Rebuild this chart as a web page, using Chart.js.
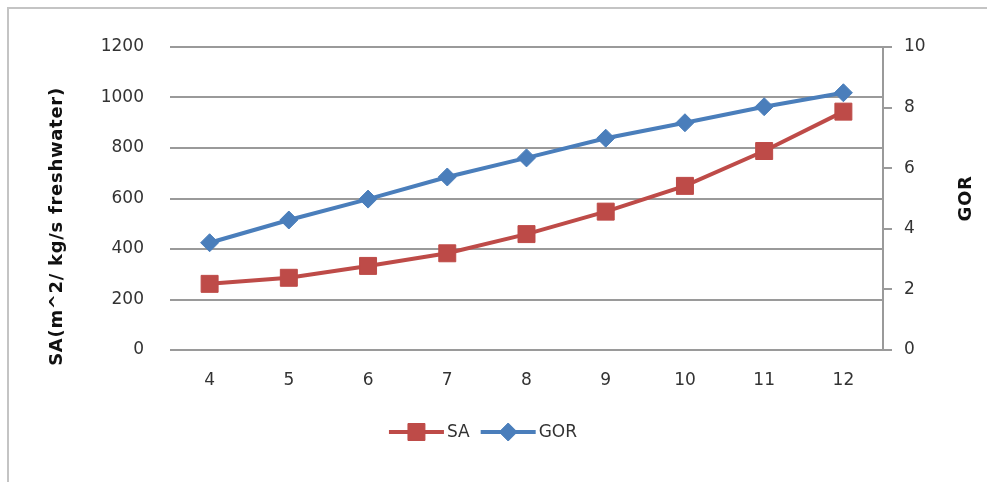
<!DOCTYPE html>
<html>
<head>
<meta charset="utf-8">
<script src="https://cdn.jsdelivr.net/npm/chart.js@4"></script>
<style>
  html, body { margin: 0; padding: 0; background: #fff; overflow: hidden; }
  canvas { display: block; }
</style>
</head>
<body>
<canvas id="chart" width="987" height="482"></canvas>
<script>
// operating points on the x axis
const stages = ["4", "5", "6", "7", "8", "9", "10", "11", "12"];
// specific area, left axis
const saValues = [262, 286, 333, 383, 459, 548, 650, 788, 944];
// gain output ratio, right axis
const gorValues = [3.54, 4.29, 4.98, 5.71, 6.34, 6.99, 7.5, 8.03, 8.49];

const leftTitle = "SA(m^2/ kg/s freshwater)";
const rightTitle = "GOR";

const RED = "#BE4B48";
const BLUE = "#4A7EBB";
const TEXT = "#333333";
const FONT = "DejaVu Sans";

// thin frame along the top and left edges
const frame = {
  id: "frame",
  beforeDraw(chart) {
    const ctx = chart.ctx;
    ctx.save();
    ctx.strokeStyle = "#c4c4c4";
    ctx.lineWidth = 2;
    ctx.beginPath();
    ctx.moveTo(8, chart.height);
    ctx.lineTo(8, 8);
    ctx.lineTo(chart.width, 8);
    ctx.stroke();
    ctx.restore();
  },
};

// both axis titles read bottom-to-top
const axisTitles = {
  id: "axisTitles",
  afterDraw(chart) {
    const ctx = chart.ctx;
    const area = chart.chartArea;
    ctx.save();
    ctx.fillStyle = "#111";
    ctx.font = "bold 18px " + FONT;
    ctx.textAlign = "center";
    ctx.textBaseline = "middle";
    ctx.letterSpacing = "0.7px";
    const draw = (text, x, y) => {
      ctx.save();
      ctx.translate(x, y);
      ctx.rotate(-Math.PI / 2);
      ctx.fillText(text, 0, 0);
      ctx.restore();
    };
    draw(leftTitle, 57, (area.top + area.bottom) / 2 + 28);
    draw(rightTitle, 966, (area.top + area.bottom) / 2);
    ctx.restore();
  },
};

// line-with-marker legend drawn under the axis
const lineLegend = {
  id: "lineLegend",
  afterDraw(chart) {
    const ctx = chart.ctx;
    const y = 432;
    const segW = 55;
    ctx.save();
    ctx.font = "17px " + FONT;
    const items = chart.data.datasets.map((ds) => ({
      ds,
      textW: ctx.measureText(ds.label).width,
    }));
    const total = items.reduce((s, it) => s + segW + 4 + it.textW, 0) + 10;
    let x = chart.width / 2 - 10 - total / 2;
    items.forEach((it) => {
      const ds = it.ds;
      ctx.strokeStyle = ds.borderColor;
      ctx.lineWidth = 4;
      ctx.beginPath();
      ctx.moveTo(x, y);
      ctx.lineTo(x + segW, y);
      ctx.stroke();
      ctx.fillStyle = ds.pointBackgroundColor;
      ctx.strokeStyle = ds.pointBorderColor;
      ctx.lineWidth = 1;
      Chart.helpers.drawPoint(ctx, {
        pointStyle: ds.pointStyle,
        radius: ds.pointRadius,
        rotation: 0,
        borderWidth: 1,
      }, x + segW / 2, y);
      ctx.fillStyle = TEXT;
      ctx.textBaseline = "middle";
      ctx.textAlign = "left";
      ctx.fillText(ds.label, x + segW + 3, y + 1);
      x += segW + 4 + it.textW + 10;
    });
    ctx.restore();
  },
};

const plain = (v) => String(v);

const ctx = document.getElementById("chart").getContext("2d");
new Chart(ctx, {
  type: "line",
  data: {
    labels: stages,
    datasets: [
      {
        label: "SA",
        data: saValues,
        yAxisID: "y",
        borderColor: RED,
        borderWidth: 4,
        pointStyle: "rect",
        pointRadius: 12,
        pointBackgroundColor: RED,
        pointBorderColor: RED,
        pointBorderWidth: 1,
        tension: 0,
      },
      {
        label: "GOR",
        data: gorValues,
        yAxisID: "y1",
        borderColor: BLUE,
        borderWidth: 4,
        pointStyle: "rectRot",
        pointRadius: 9,
        pointBackgroundColor: BLUE,
        pointBorderColor: BLUE,
        pointBorderWidth: 1,
        tension: 0,
      },
    ],
  },
  options: {
    responsive: false,
    animation: false,
    layout: { padding: { top: 47, left: 0, right: 0, bottom: 0 } },
    plugins: {
      legend: { display: false },
      tooltip: { enabled: false },
    },
    scales: {
      x: {
        offset: true,
        grid: { display: false },
        border: { display: false },
        ticks: { color: TEXT, font: { family: FONT, size: 17 }, padding: 12 },
        afterFit(scale) { scale.height = 132; },
      },
      y: {
        position: "left",
        min: 0,
        max: 1200,
        ticks: { stepSize: 200, color: TEXT, font: { family: FONT, size: 17 }, padding: 26, callback: plain },
        grid: { color: "#9a9a9a", lineWidth: 2, drawTicks: false },
        border: { display: false },
        afterFit(scale) { scale.width = 170; },
      },
      y1: {
        position: "right",
        min: 0,
        max: 10,
        ticks: { stepSize: 2, color: TEXT, font: { family: FONT, size: 17 }, padding: 12, callback: plain },
        grid: { drawOnChartArea: false, color: "#9a9a9a", lineWidth: 2, tickLength: 9 },
        border: { display: true, color: "#9a9a9a", width: 2 },
        afterFit(scale) { scale.width = 104; },
      },
    },
  },
  plugins: [frame, axisTitles, lineLegend],
});
</script>
</body>
</html>
